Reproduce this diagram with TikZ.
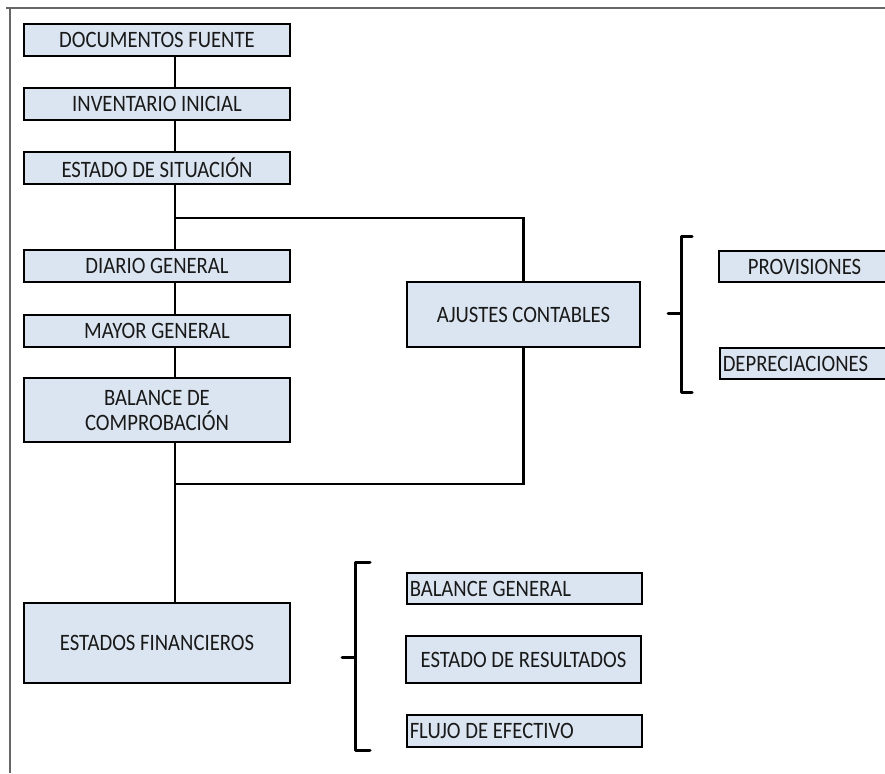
\documentclass[tikz,border=0pt]{standalone}
\usepackage{fontspec}
\setmainfont{Carlito}[FakeStretch=0.88]
\definecolor{boxfill}{RGB}{219,229,241}
\begin{document}
\begin{tikzpicture}[x=1pt,y=-1pt,
  box/.style={draw=black, line width=1.5pt, fill=boxfill, inner sep=0pt,
    text=black!90, font=\fontsize{23.5}{26}\selectfont},
  lbox/.style={box, align=flush left, inner xsep=3pt},
  conn/.style={line width=2.8pt, line cap=rect},
  brace/.style={line width=3pt, line cap=round, line join=round},
  frame/.style={draw=black!60, line width=1.6pt}]
\useasboundingbox (0,0) rectangle (885,773);
\clip (0,0) rectangle (885,773);
\fill[white] (0,0) rectangle (885,773);
% frame
\draw[frame] (6,8) -- (885,8);
\draw[frame] (10,8) -- (10,773);
% left column
\node[box, minimum width=266pt, minimum height=32pt] (doc) at (157,40) {DOCUMENTOS FUENTE};
\node[box, minimum width=266pt, minimum height=32pt] (inv) at (157,104) {INVENTARIO INICIAL};
\node[box, minimum width=266pt, minimum height=32pt] (est) at (157,168) {ESTADO DE SITUACIÓN};
\node[box, minimum width=266pt, minimum height=32pt] (dia) at (157,266) {DIARIO GENERAL};
\node[box, minimum width=266pt, minimum height=32pt] (may) at (157,331) {MAYOR GENERAL};
\node[box, minimum width=266pt, minimum height=64pt, align=center] (bal) at (157,410) {BALANCE DE\\[-1pt]COMPROBACIÓN};
\node[box, minimum width=266pt, minimum height=80pt] (ef) at (157,643) {ESTADOS FINANCIEROS};
% middle
\node[box, minimum width=233pt, minimum height=65pt] (aju) at (523.5,314.5) {AJUSTES CONTABLES};
% right
\node[box, minimum width=171pt, minimum height=31pt] (prov) at (804.5,266.5) {PROVISIONES};
\node[lbox, anchor=west, text width=165pt, minimum height=31pt] (dep) at (719,363.5) {DEPRECIACIONES};
% lower results
\node[lbox, anchor=west, text width=229pt, minimum height=31pt] (bg) at (406,588.5) {BALANCE GENERAL};
\node[box, minimum width=235pt, minimum height=47pt] (er) at (523.5,659.5) {ESTADO DE RESULTADOS};
\node[lbox, anchor=west, text width=229pt, minimum height=32pt] (fl) at (406,731) {FLUJO DE EFECTIVO};
% connectors
\coordinate (trunk) at (175,0);
\coordinate (j1) at (175,218);
\coordinate (j2) at (175,484);
\draw[conn] (doc.south -| trunk) -- (inv.north -| trunk);
\draw[conn] (inv.south -| trunk) -- (est.north -| trunk);
\draw[conn] (est.south -| trunk) -- (dia.north -| trunk);
\draw[conn] (dia.south -| trunk) -- (may.north -| trunk);
\draw[conn] (may.south -| trunk) -- (bal.north -| trunk);
\draw[conn] (bal.south -| trunk) -- (ef.north -| trunk);
\draw[conn] (j1) -| (aju.north);
\draw[conn] (j2) -| (aju.south);
% braces
\draw[brace] (692,236) -- (681,236) -- (681,392) -- (692,392);
\draw[brace] (668,313) -- (681,313);
\draw[brace] (370,562) -- (355,562) -- (355,750) -- (370,750);
\draw[brace] (342,657) -- (355,657);
\end{tikzpicture}
\end{document}
